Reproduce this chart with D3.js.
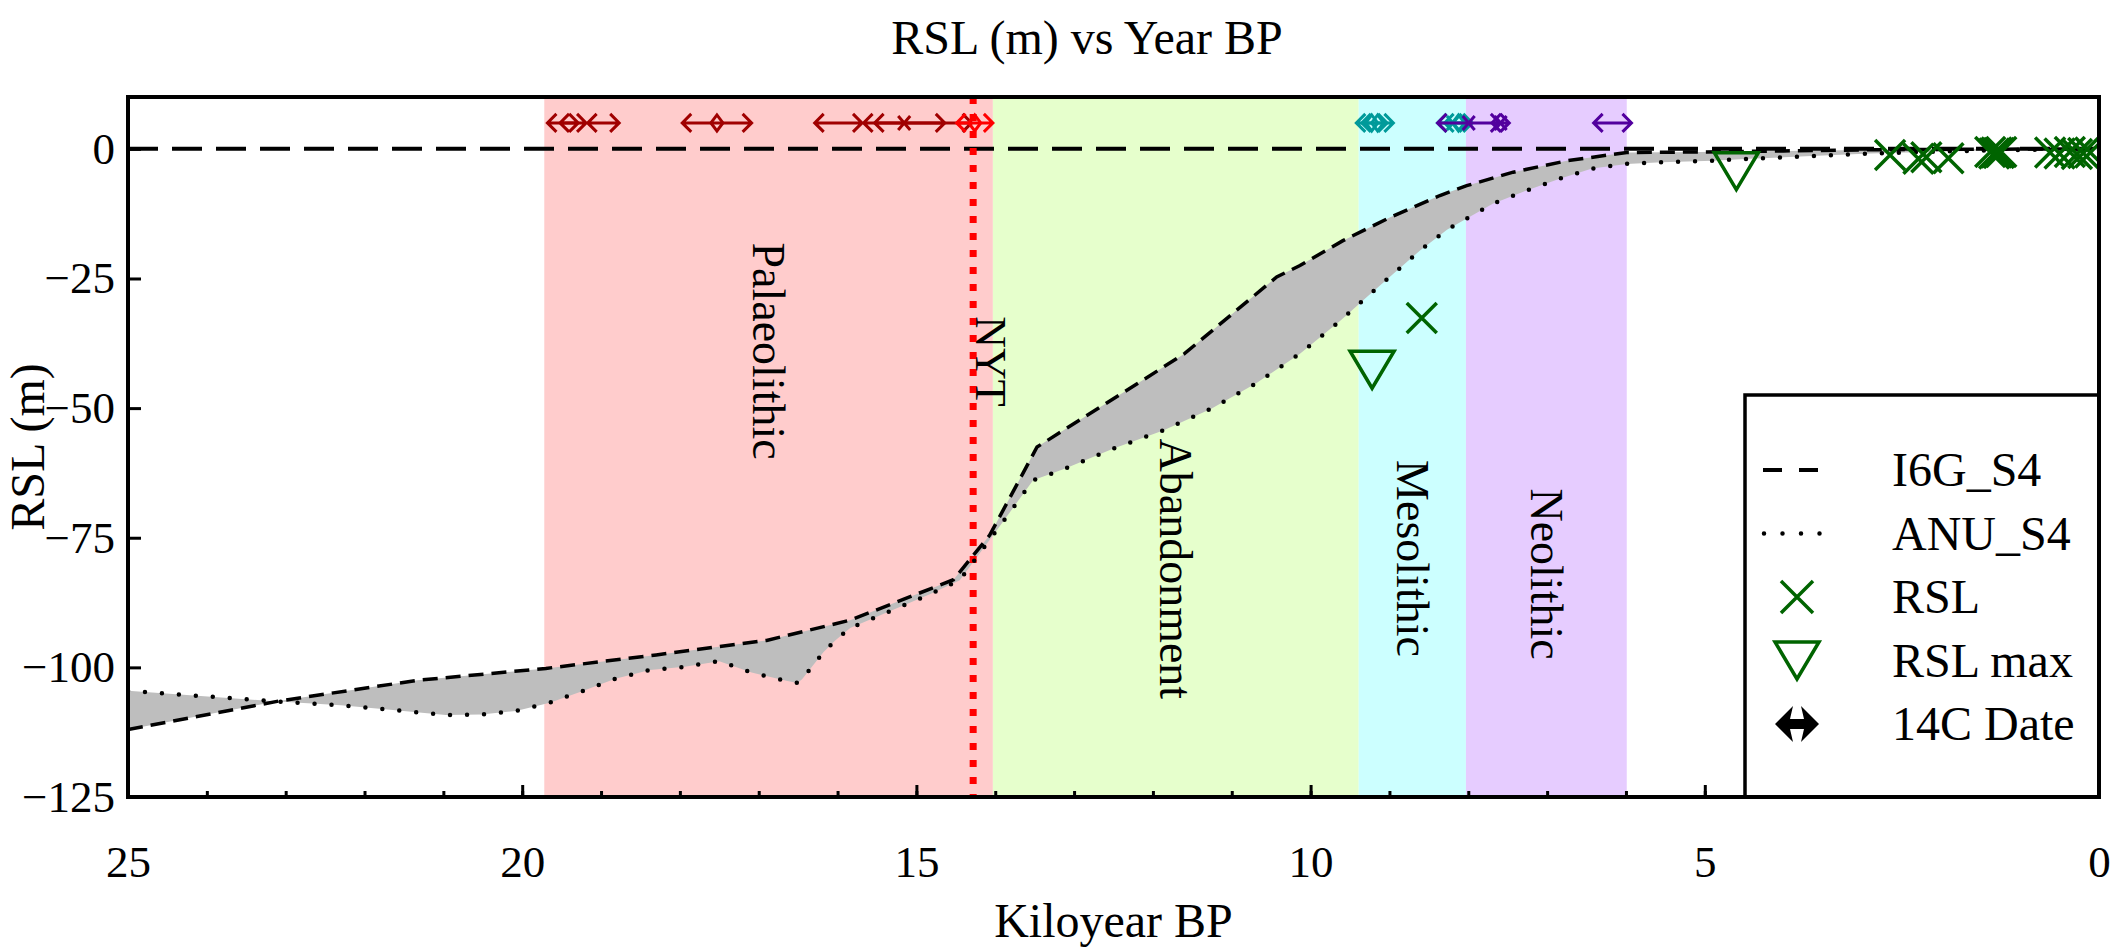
<!DOCTYPE html>
<html>
<head>
<meta charset="utf-8">
<script src="https://cdn.jsdelivr.net/npm/d3@7"></script>
<style>
  body { margin: 0; background: #fff; }
  svg text { font-family: "Liberation Serif", "DejaVu Serif", serif !important; fill: #000; }
</style>
</head>
<body>
<div id="container"></div>
<script>
/* CONSTANTS AND GLOBALS */
const width = 2112,
  height = 952,
  margin = { top: 97, right: 13, bottom: 155, left: 128 };
const serif = "'Liberation Serif', 'DejaVu Serif', serif";

// I6G_S4 model curve (dashed)
const i6gAge = [25, 23.09, 21.33, 19.7, 18.3, 16.9, 15.84, 14.53, 14.07, 13.47, 12.2, 11.6, 10.43, 10.135, 9.59, 8.99, 8.36, 8.02, 7.43, 6.75, 5.99, 5.06, 4.0, 3.0, 2.0, 1.0, 0];
const i6gRsl = [-112.0, -106.5, -102.5, -100.2, -97.6, -94.8, -90.9, -83.1, -74.5, -57.5, -45.3, -39.5, -24.7, -22.5, -17.7, -13.2, -9.0, -7.1, -4.5, -2.3, -0.7, -0.6, -0.4, -0.2, -0.1, -0.05, 0];

// ANU_S4 model curve (dotted)
const anuAge = [25, 23.19, 22.3, 21.64, 20.97, 20.52, 20.08, 19.65, 19.24, 18.82, 18.38, 17.94, 17.5, 17.09, 16.65, 16.51, 16.45, 16.18, 16.03, 15.84, 14.83, 14.45, 13.92, 13.52, 13.12, 12.5, 11.87, 11.26, 10.69, 10.135, 9.62, 9.29, 8.95, 8.62, 8.27, 7.69, 7.27, 6.85, 6.43, 5.99, 5.55, 4.9, 4.43, 3.5, 2.9, 2.0, 1.0, 0];
const anuRsl = [-104.5, -106.5, -107.3, -108.2, -109.2, -109.1, -108.4, -106.8, -104.6, -102.2, -100.5, -99.9, -98.8, -101.0, -102.6, -103.0, -102.3, -97.1, -94.8, -92.4, -85.9, -83.2, -72.3, -63.9, -61.7, -57.8, -54.3, -50.1, -45.2, -39.5, -33.1, -28.6, -24.1, -19.7, -15.6, -10.6, -8.1, -5.8, -3.8, -2.9, -2.6, -2.3, -1.9, -1.3, -0.9, -0.5, -0.2, 0];

// RSL observations (x markers)
const rslAge = [8.59, 2.65, 2.29, 2.19, 1.91, 1.38, 1.33, 1.30, 1.27, 1.24, 0.62, 0.50, 0.37, 0.28, 0.20, 0.11];
const rslVal = [-32.6, -1.2, -1.9, -1.6, -1.8, -0.6, -0.9, -0.7, -0.8, -0.6, -0.7, -0.9, -0.6, -1.0, -0.8, -0.7];

// RSL max (triangles)
const rslMaxAge = [9.22, 4.6];
const rslMaxVal = [-42.6, -4.3];

// cultural periods
const periodNames = ["Palaeolithic", "Abandonment", "Mesolithic", "Neolithic"];
const periodStart = [19.72, 14.03, 9.39, 8.03];
const periodEnd = [14.03, 9.39, 8.03, 5.99];
const periodColors = ["#ffcccc", "#e6ffcc", "#ccffff", "#e6ccff"];
const periodLabelRsl = [-39, -81, -79, -82];

// NYT tephra
const nytAge = 14.28;

// 14C dates (drawn at +5 m)
const c14Start = [19.68, 19.52, 19.17, 17.97, 16.29, 15.67, 15.53, 14.49, 9.42, 9.35, 8.39, 8.30, 8.39, 7.70, 6.41];
const c14End = [19.29, 19.19, 18.77, 17.09, 15.69, 14.64, 14.30, 14.03, 9.03, 8.95, 8.00, 7.95, 7.60, 7.48, 5.93];
const c14Mark = ["", "", "", "diamond", "", "x", "", "diamond", "diamond", "diamond", "x", "diamond", "x", "x", ""];
const c14Color = ["#a00000", "#a00000", "#a00000", "#a00000", "#a00000", "#a00000", "#a00000", "#ff0000", "#009a9a", "#009a9a", "#009a9a", "#009a9a", "#52009e", "#52009e", "#52009e"];
const c14Level = 5;

const xTicks = [25, 20, 15, 10, 5, 0];
const yTicks = [-125, -100, -75, -50, -25, 0];
const legendLabels = ["I6G_S4", "ANU_S4", "RSL", "RSL max", "14C Date"];

const green = "#006400";

/* SCALES */
const xScale = d3.scaleLinear()
  .domain([25, 0])
  .range([margin.left, width - margin.right]);

const yScale = d3.scaleLinear()
  .domain([-125, 10])
  .range([height - margin.bottom, margin.top]);

const svg = d3.select("#container")
  .append("svg")
  .attr("width", width)
  .attr("height", height)
  .attr("font-family", serif);

const plotW = width - margin.left - margin.right,
  plotH = height - margin.top - margin.bottom;

svg.append("clipPath").attr("id", "clip")
  .append("rect")
  .attr("x", margin.left).attr("y", margin.top)
  .attr("width", plotW).attr("height", plotH);

const plot = svg.append("g").attr("clip-path", "url(#clip)");

// period bands
plot.selectAll(".band")
  .data(periodNames)
  .join("rect")
  .attr("class", "band")
  .attr("x", (d, i) => xScale(periodStart[i]))
  .attr("width", (d, i) => xScale(periodEnd[i]) - xScale(periodStart[i]))
  .attr("y", margin.top)
  .attr("height", plotH)
  .attr("fill", (d, i) => periodColors[i]);

// gray envelope between the two models
const i6gPts = i6gAge.map((a, i) => [a, i6gRsl[i]]);
const anuPts = anuAge.map((a, i) => [a, anuRsl[i]]);
const lineGen = d3.line()
  .x(d => xScale(d[0]))
  .y(d => yScale(d[1]));

plot.append("path")
  .attr("d", lineGen(i6gPts.concat(anuPts.slice().reverse())) + "Z")
  .attr("fill", "#bebebe")
  .attr("stroke", "none");

// zero line
plot.append("path")
  .attr("d", lineGen([[25, 0], [0, 0]]))
  .attr("fill", "none")
  .attr("stroke", "#000")
  .attr("stroke-width", 4)
  .attr("stroke-dasharray", "30 14");

// NYT line
plot.append("line")
  .attr("x1", xScale(nytAge)).attr("x2", xScale(nytAge))
  .attr("y1", margin.top).attr("y2", height - margin.bottom)
  .attr("stroke", "#ff0000")
  .attr("stroke-width", 7)
  .attr("stroke-dasharray", "7 10");

// model curves
plot.append("path")
  .attr("d", lineGen(i6gPts))
  .attr("fill", "none")
  .attr("stroke", "#000")
  .attr("stroke-width", 3.5)
  .attr("stroke-dasharray", "15 8");

plot.append("path")
  .attr("d", lineGen(anuPts))
  .attr("fill", "none")
  .attr("stroke", "#000")
  .attr("stroke-width", 4.5)
  .attr("stroke-linecap", "round")
  .attr("stroke-dasharray", "0 17");

// period labels
plot.selectAll(".plabel")
  .data(periodNames)
  .join("text")
  .attr("class", "plabel")
  .attr("transform", (d, i) => `translate(${xScale((periodStart[i] + periodEnd[i]) / 2)},${yScale(periodLabelRsl[i])}) rotate(90)`)
  .attr("text-anchor", "middle")
  .attr("dominant-baseline", "central")
  .style("font-size", "46px")
  .text(d => d);

plot.append("text")
  .attr("transform", `translate(${xScale(nytAge) + 17},${yScale(-41)}) rotate(90)`)
  .attr("text-anchor", "middle")
  .attr("dominant-baseline", "central")
  .style("font-size", "44px")
  .text("NYT");

// marker shapes
const xPath = s => `M${-s},${-s}L${s},${s}M${-s},${s}L${s},${-s}`;
const triPath = "M-22,-18.5L22,-18.5L0,18.5Z";

plot.selectAll(".rsl")
  .data(rslAge)
  .join("path")
  .attr("class", "rsl")
  .attr("transform", (d, i) => `translate(${xScale(d)},${yScale(rslVal[i])})`)
  .attr("d", xPath(15))
  .attr("fill", "none")
  .attr("stroke", green)
  .attr("stroke-width", 3.5);

plot.selectAll(".rslmax")
  .data(rslMaxAge)
  .join("path")
  .attr("class", "rslmax")
  .attr("transform", (d, i) => `translate(${xScale(d)},${yScale(rslMaxVal[i])})`)
  .attr("d", triPath)
  .attr("fill", "none")
  .attr("stroke", green)
  .attr("stroke-width", 3.5);

// 14C date ranges
const cy = yScale(c14Level);
const c14Data = c14Start.map((s, i) => ({ s: s, e: c14End[i], mark: c14Mark[i], color: c14Color[i] }));
const c14 = plot.selectAll(".c14")
  .data(c14Data)
  .join("g")
  .attr("class", "c14")
  .attr("fill", "none")
  .attr("stroke", d => d.color)
  .attr("stroke-width", 3);

c14.append("path")
  .attr("d", d => {
    const a = xScale(d.s), b = xScale(d.e);
    return `M${a},${cy}L${b},${cy}M${a + 9},${cy - 9}L${a},${cy}L${a + 9},${cy + 9}M${b - 9},${cy - 9}L${b},${cy}L${b - 9},${cy + 9}`;
  });

c14.filter(d => d.mark !== "")
  .append("path")
  .attr("d", d => {
    const m = xScale((d.s + d.e) / 2);
    return d.mark === "x"
      ? `M${m - 6},${cy - 7}L${m + 6},${cy + 7}M${m - 6},${cy + 7}L${m + 6},${cy - 7}`
      : `M${m - 6},${cy}L${m},${cy - 8}L${m + 6},${cy}L${m},${cy + 8}Z`;
  });

// axes
const xAxis = d3.axisBottom(xScale).tickValues(xTicks).tickSize(-12).tickFormat(d3.format("d"));
const xMinor = d3.axisBottom(xScale).tickValues(d3.range(1, 25)).tickSize(-6).tickFormat("");
const yAxis = d3.axisLeft(yScale).tickValues(yTicks).tickSize(-13).tickPadding(13);

const xAxisGroup = svg.append("g")
  .attr("transform", `translate(0,${height - margin.bottom})`)
  .call(xAxis)
  .attr("font-family", serif);
xAxisGroup.selectAll("text").attr("y", 80).attr("dy", 0).style("font-size", "45px");

svg.append("g")
  .attr("transform", `translate(0,${height - margin.bottom})`)
  .call(xMinor);

const yAxisGroup = svg.append("g")
  .attr("transform", `translate(${margin.left},0)`)
  .call(yAxis)
  .attr("font-family", serif);
yAxisGroup.selectAll("text").style("font-size", "45px");

svg.selectAll(".domain").remove();
svg.selectAll(".tick line").attr("stroke", "#000").attr("stroke-width", 3);

// legend
const lg = svg.append("g");
const lgX = 1745, lgY = 395;
lg.append("rect")
  .attr("x", lgX).attr("y", lgY)
  .attr("width", width - margin.right - lgX)
  .attr("height", height - margin.bottom - lgY)
  .attr("fill", "#fff")
  .attr("stroke", "#000")
  .attr("stroke-width", 3.5);

const rowY = i => 470 + i * 63.5;
lg.selectAll(".ltext")
  .data(legendLabels)
  .join("text")
  .attr("x", 1892)
  .attr("y", (d, i) => rowY(i) + 16)
  .style("font-size", "48px")
  .text(d => d);

lg.append("line")
  .attr("x1", 1763).attr("x2", 1818)
  .attr("y1", rowY(0)).attr("y2", rowY(0))
  .attr("stroke", "#000").attr("stroke-width", 4)
  .attr("stroke-dasharray", "19 17");
lg.append("line")
  .attr("x1", 1764).attr("x2", 1820)
  .attr("y1", rowY(1)).attr("y2", rowY(1))
  .attr("stroke", "#000").attr("stroke-width", 4.5)
  .attr("stroke-linecap", "round")
  .attr("stroke-dasharray", "0 18.5");
lg.append("path")
  .attr("transform", `translate(1797,${rowY(2)})`)
  .attr("d", xPath(16))
  .attr("fill", "none").attr("stroke", green).attr("stroke-width", 3.5);
lg.append("path")
  .attr("transform", `translate(1797,${rowY(3)})`)
  .attr("d", triPath)
  .attr("fill", "none").attr("stroke", green).attr("stroke-width", 3.5);
lg.append("path")
  .attr("transform", `translate(1797,${rowY(4)})`)
  .attr("d", "M-22,0L-4,-18L-7,-5L7,-5L4,-18L22,0L4,18L7,5L-7,5L-4,18Z")
  .attr("fill", "#000");

// frame
svg.append("rect")
  .attr("x", margin.left).attr("y", margin.top)
  .attr("width", plotW).attr("height", plotH)
  .attr("fill", "none")
  .attr("stroke", "#000")
  .attr("stroke-width", 4);

// titles
svg.append("text")
  .attr("x", 1087).attr("y", 54)
  .attr("text-anchor", "middle")
  .style("font-size", "48px")
  .text("RSL (m) vs Year BP");

svg.append("text")
  .attr("x", (margin.left + width - margin.right) / 2).attr("y", 937)
  .attr("text-anchor", "middle")
  .style("font-size", "48px")
  .text("Kiloyear BP");

svg.append("text")
  .attr("transform", `translate(44,${margin.top + plotH / 2}) rotate(-90)`)
  .attr("text-anchor", "middle")
  .style("font-size", "48px")
  .text("RSL (m)");
</script>
</body>
</html>
